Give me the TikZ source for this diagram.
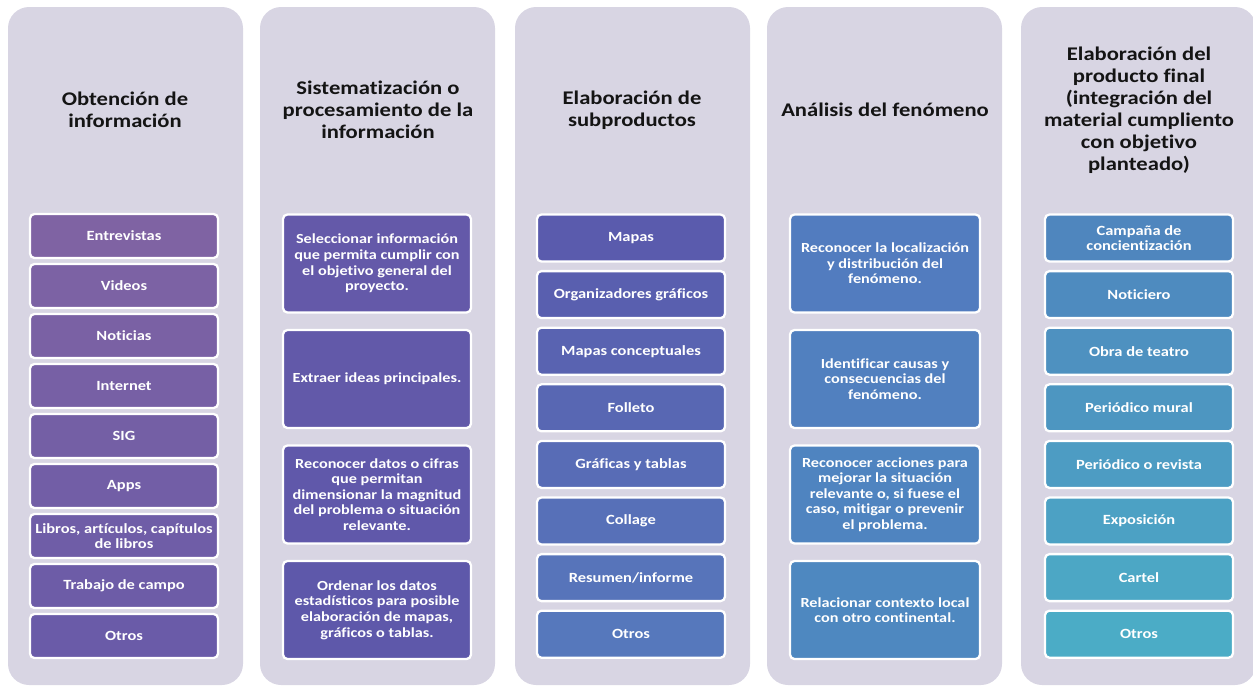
\documentclass[tikz,border=0pt]{standalone}
\usepackage{fontspec}
\setmainfont{Carlito}[FakeStretch=1.17,Ligatures=NoCommon]

\definecolor{fondo}{RGB}{216,213,227}
\definecolor{titulo}{RGB}{20,20,20}
\definecolor{obtA}{RGB}{127,99,163}
\definecolor{obtB}{RGB}{106,91,168}
\definecolor{sisA}{RGB}{100,89,169}
\definecolor{sisB}{RGB}{94,88,170}
\definecolor{subA}{RGB}{90,91,173}
\definecolor{subB}{RGB}{86,120,188}
\definecolor{anaA}{RGB}{82,124,191}
\definecolor{anaB}{RGB}{78,136,192}
\definecolor{finA}{RGB}{79,134,190}
\definecolor{finB}{RGB}{75,172,198}

\begin{document}
\begin{tikzpicture}[x=0.02cm,y=-0.02cm,
  panel/.style={fill=fondo,rounded corners=12pt},
  encabezado/.style={align=center,text=titulo,font=\fontsize{11}{12.5}\selectfont\bfseries},
  caja/.style={draw=white,line width=1.3pt,rounded corners=2.5pt,text=white,align=center,inner sep=1pt,minimum width=3.76cm},
  lista/.style={caja,minimum height=0.94cm,font=\fontsize{8}{8.6}\selectfont\bfseries},
  parrafo/.style={caja,minimum height=1.96cm,font=\fontsize{7.9}{8.9}\selectfont\bfseries}]
\useasboundingbox (0,0) rectangle (1253,687);

\foreach \x in {8,260,515,767,1021}
  \fill[panel] (\x,7) rectangle ++(235,678);

\node[encabezado] (t1) at (125,110) {Obtención de\\información};
\node[encabezado] (t2) at (378,110) {Sistematización o\\procesamiento de la\\información};
\node[encabezado] (t3) at (632,110) {Elaboración de\\subproductos};
\node[encabezado] (t4) at (885,110) {Análisis del fenómeno};
\node[encabezado] (t5) at (1139,110) {Elaboración del\\producto final\\(integración del\\material cumpliento\\con objetivo\\planteado)};

\foreach \t [count=\i] in {Entrevistas,Videos,Noticias,Internet,SIG,Apps,
  {Libros, artículos, capítulos\\de libros},Trabajo de campo,Otros}{
  \pgfmathsetmacro\p{100-(\i-1)*12.5}
  \node[lista,fill=obtA!\p!obtB,minimum height=0.88cm] (obt\i) at (124,186+50*\i) {\t};
}

\foreach \t [count=\i] in {{Seleccionar información\\que permita cumplir con\\el objetivo general del\\proyecto.},
  {Extraer ideas principales.},
  {Reconocer datos o cifras\\que permitan\\dimensionar la magnitud\\del problema o situación\\relevante.},
  {Ordenar los datos\\estadísticos para posible\\elaboración de mapas,\\gráficos o tablas.}}{
  \pgfmathsetmacro\p{100-(\i-1)*100/3}
  \node[parrafo,fill=sisA!\p!sisB] (sis\i) at (377,148+115.5*\i) {\t};
}

\foreach \t [count=\i] in {Mapas,Organizadores gráficos,Mapas conceptuales,Folleto,
  Gráficas y tablas,Collage,Resumen/informe,Otros}{
  \pgfmathsetmacro\p{100-(\i-1)*100/7}
  \node[lista,fill=subA!\p!subB] (sub\i) at (631,181.4+56.6*\i) {\t};
}

\foreach \t [count=\i] in {{Reconocer la localización\\y distribución del\\fenómeno.},
  {Identificar causas y\\consecuencias del\\fenómeno.},
  {Reconocer acciones para\\mejorar la situación\\relevante o, si fuese el\\caso, mitigar o prevenir\\el problema.},
  {Relacionar contexto local\\con otro continental.}}{
  \pgfmathsetmacro\p{100-(\i-1)*100/3}
  \node[parrafo,fill=anaA!\p!anaB,minimum width=3.8cm] (ana\i) at (885,148+115.5*\i) {\t};
}

\foreach \t [count=\i] in {{Campaña de\\concientización},Noticiero,Obra de teatro,Periódico mural,
  Periódico o revista,Exposición,Cartel,Otros}{
  \pgfmathsetmacro\p{100-(\i-1)*100/7}
  \node[lista,fill=finA!\p!finB] (fin\i) at (1139,181.4+56.6*\i) {\t};
}

\end{tikzpicture}
\end{document}
